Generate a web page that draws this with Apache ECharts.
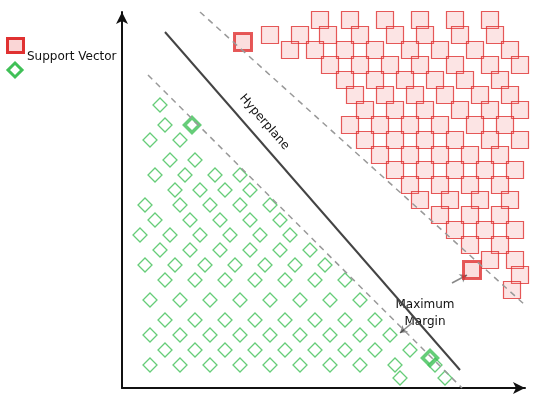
<!DOCTYPE html>
<html><head><meta charset="utf-8">
<script src="https://cdn.jsdelivr.net/npm/echarts@6/dist/echarts.min.js"></script>
<style>html,body{margin:0;padding:0;background:#fff}#c{width:550px;height:400px}</style>
</head><body><div id="c"></div>
<script>
// coordinates: x = pixel offset from origin to the right, y = pixel offset above origin
const redRows = [
 [368,[320,350,385,420,455,490]],
 [353,[270,300,328,360,395,425,460,495]],
 [338,[290,315,345,375,410,440,475,510]],
 [323,[330,360,390,420,455,490,520]],
 [308,[345,375,405,435,465,500]],
 [293,[355,385,415,445,480,510]],
 [278,[365,395,425,460,490,520]],
 [263,[350,380,410,440,475,505]],
 [248,[365,395,425,455,490,520]],
 [233,[380,410,440,470,500]],
 [218,[395,425,455,485,515]],
 [203,[410,440,470,500]],
 [188,[420,450,480,510]],
 [173,[440,470,500]],
 [158,[455,485,515]],
 [143,[470,500]],
 [128,[490,515]],
 [113,[520]],
 [98,[512]]
];
const greenRows = [
 [283,[160]],
 [263,[165]],
 [248,[150,180]],
 [228,[170,195]],
 [213,[155,185,215,240]],
 [198,[175,200,225,250]],
 [183,[145,180,210,240,270]],
 [168,[155,190,220,250,280]],
 [153,[140,170,200,230,260,290]],
 [138,[160,190,220,250,280,310]],
 [123,[145,175,205,235,265,295,325]],
 [108,[165,195,225,255,285,315,345]],
 [88,[150,180,210,240,270,300,330,360]],
 [68,[165,195,225,255,285,315,345,375]],
 [53,[150,180,210,240,270,300,330,360,390]],
 [38,[165,195,225,255,285,315,345,375,410]],
 [23,[150,180,210,240,270,300,330,360,395,435]],
 [10,[400,445]]
];
const redSV = [[121,346],[350,118]];
const greenSV = [[70,263],[308,30]];
const hyperplane = [[43,356],[338,18]];
const upperMargin = [[78,376],[403,83]];
const lowerMargin = [[26,313],[340,0]];
const arrows = [[[330,105],[345,113]],[[290,65],[278,55]]];

const toPts = rows => rows.flatMap(([y,xs]) => xs.map(px => [px-122, y]));
const red = toPts(redRows), green = toPts(greenRows);
const font = 'DejaVu Sans';

const chart = echarts.init(document.getElementById('c'));
const lineS = (d, type, w) => ({type:'line', data:d, symbol:'none', silent:true,
  lineStyle:{color: type==='solid'?'#444':'#999', width:w, type:type==='solid'?'solid':[6,5]}});
chart.setOption({
  animation:false,
  grid:{left:122,right:25,top:12,bottom:12},
  xAxis:{type:'value',min:0,max:403,axisLine:{lineStyle:{color:'#111',width:2},symbol:['none','arrow'],symbolSize:[9,12]},
    axisTick:{show:false},axisLabel:{show:false},splitLine:{show:false}},
  yAxis:{type:'value',min:0,max:376,axisLine:{show:true,lineStyle:{color:'#111',width:2},symbol:['none','arrow'],symbolSize:[9,12]},
    axisTick:{show:false},axisLabel:{show:false},splitLine:{show:false}},
  series:[
    lineS(upperMargin,'dash',1.5), lineS(lowerMargin,'dash',1.5), lineS(hyperplane,'solid',2),
    {type:'scatter',data:red,symbol:'rect',symbolSize:17,
      itemStyle:{color:'rgba(240,120,120,0.25)',borderColor:'#e03131',borderWidth:1.2}},
    {type:'scatter',data:green,symbol:'diamond',symbolSize:[14,14],
      itemStyle:{color:'rgba(255,255,255,0)',borderColor:'#40c057',borderWidth:1.3}},
    {type:'scatter',data:redSV,symbol:'rect',symbolSize:17,
      itemStyle:{color:'rgba(240,120,120,0.3)',borderColor:'#e03131',borderWidth:3}},
    {type:'scatter',data:greenSV,symbol:'diamond',symbolSize:15,
      itemStyle:{color:'rgba(255,255,255,0)',borderColor:'#40c057',borderWidth:3.5}},
    {type:'lines',coordinateSystem:'cartesian2d',data:arrows.map(c=>({coords:c})),
      symbol:['none','arrow'],symbolSize:7,lineStyle:{color:'#111',width:1.5}}
  ],
  graphic:[
    {type:'rect',left:6,top:37,shape:{width:16,height:14},style:{fill:'rgba(240,120,120,0.3)',stroke:'#e03131',lineWidth:3}},
    {type:'polygon',shape:{points:[[15,63],[22,70],[15,77],[8,70]]},style:{fill:'none',stroke:'#40c057',lineWidth:3}},
    {type:'text',left:27,top:51,style:{text:'Support Vector',font:'12px '+font,fill:'#111'}},
    {type:'text',x:246,y:92,rotation:-Math.atan2(338,295),style:{text:'Hyperplane',font:'12px '+font,fill:'#111'}},
    {type:'text',x:425,y:296,style:{text:'Maximum\nMargin',font:'12px '+font,fill:'#111',align:'center',lineHeight:17}}
  ]
});
</script></body></html>
